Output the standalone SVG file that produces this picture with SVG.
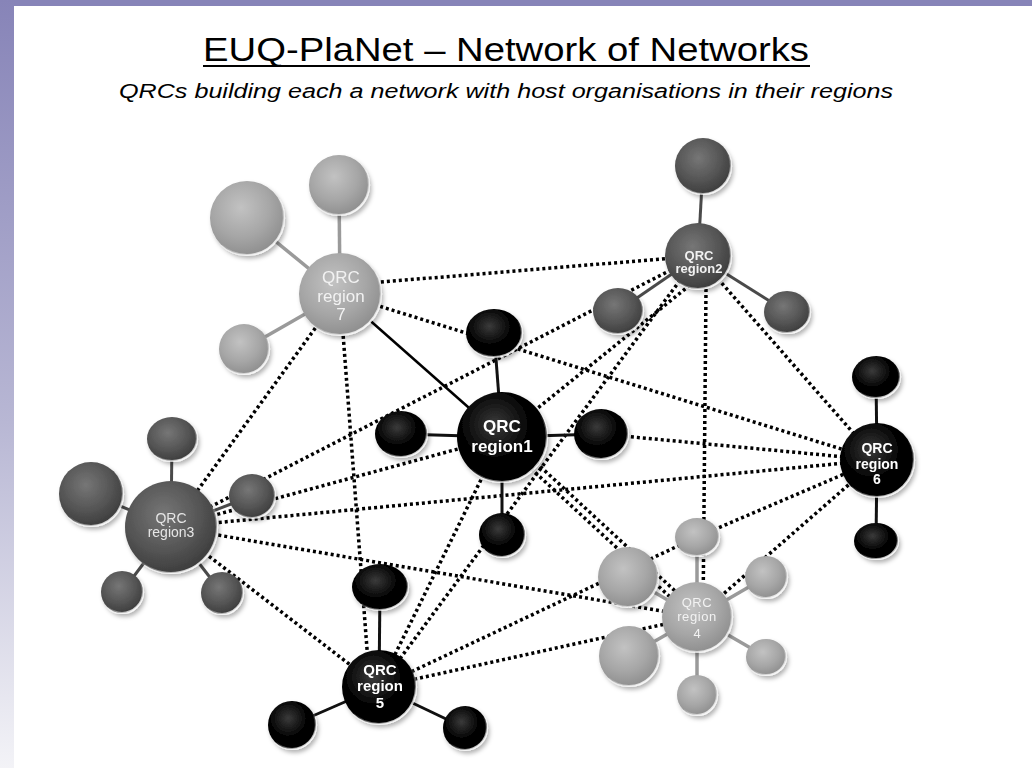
<svg xmlns="http://www.w3.org/2000/svg" width="1032" height="768" viewBox="0 0 1032 768">
<defs>
<linearGradient id="bandL" x1="0" y1="0" x2="0" y2="1">
<stop offset="0" stop-color="#8784b8"/><stop offset="0.55" stop-color="#b8b7d4"/><stop offset="1" stop-color="#f3f3f7"/>
</linearGradient>
<radialGradient id="gK" cx="0.42" cy="0.36" r="0.66">
<stop offset="0" stop-color="#3a3a3a"/><stop offset="0.55" stop-color="#060606"/><stop offset="1" stop-color="#000"/>
</radialGradient>
<radialGradient id="gD" cx="0.42" cy="0.36" r="0.66">
<stop offset="0" stop-color="#767676"/><stop offset="0.6" stop-color="#555"/><stop offset="1" stop-color="#3c3c3c"/>
</radialGradient>
<radialGradient id="gL" cx="0.42" cy="0.36" r="0.66">
<stop offset="0" stop-color="#c2c2c2"/><stop offset="0.6" stop-color="#a6a6a6"/><stop offset="1" stop-color="#8e8e8e"/>
</radialGradient>
<linearGradient id="rim" x1="0.15" y1="0.05" x2="0.85" y2="0.95">
<stop offset="0" stop-color="#fff" stop-opacity="0"/><stop offset="0.55" stop-color="#fff" stop-opacity="0"/><stop offset="1" stop-color="#fff" stop-opacity="0.95"/>
</linearGradient>
<filter id="sh" x="-30%" y="-30%" width="170%" height="170%">
<feDropShadow dx="2" dy="3" stdDeviation="2.2" flood-color="#000" flood-opacity="0.3"/>
</filter>
</defs>
<style>
.con{stroke:#000;stroke-width:3.5;stroke-dasharray:3 3;fill:none}
.sol{stroke:#000;stroke-width:2.5;fill:none}
.spk{stroke:#111;stroke-width:3}
.spd{stroke:#4a4a4a;stroke-width:3}
.spl{stroke:#9a9a9a;stroke-width:3.5}
.k{fill:url(#gK);stroke:url(#rim);stroke-width:2.2}
.d{fill:url(#gD);stroke:url(#rim);stroke-width:2.2}
.l{fill:url(#gL);stroke:url(#rim);stroke-width:2.2}
.n{filter:url(#sh)}
.lab{font-family:"Liberation Sans",Arial,sans-serif;text-anchor:middle}
.wb{fill:#fff;font-weight:bold}
.gw{fill:#f2f2f2}
</style>
<rect x="0" y="0" width="1032" height="768" fill="#fff"/>
<rect x="0" y="0" width="1032" height="6" fill="#8784b8"/>
<rect x="0" y="0" width="14" height="768" fill="url(#bandL)"/>

<g id="title">
<text x="506" y="61" font-family="'Liberation Sans',Arial,sans-serif" font-size="34" fill="#000" text-anchor="middle" textLength="606" lengthAdjust="spacingAndGlyphs">EUQ-PlaNet – Network of Networks</text>
<rect x="203" y="65" width="607" height="2" fill="#000"/>
<text x="506" y="98" font-family="'Liberation Sans',Arial,sans-serif" font-size="20" font-style="italic" fill="#000" text-anchor="middle" textLength="774" lengthAdjust="spacingAndGlyphs">QRCs building each a network with host organisations in their regions</text>
</g>

<g id="connectors">
<line class="con" x1="345" y1="285" x2="698" y2="256"/>
<line class="con" x1="340" y1="294" x2="877" y2="460"/>
<line class="con" x1="340" y1="294" x2="171" y2="527"/>
<line class="con" x1="340" y1="294" x2="368" y2="662"/>
<line class="con" x1="698" y1="256" x2="171" y2="527"/>
<line class="con" x1="690" y1="285" x2="502" y2="437"/>
<line class="con" x1="698" y1="256" x2="379" y2="687"/>
<line class="con" x1="706" y1="289" x2="703" y2="617"/>
<line class="con" x1="698" y1="256" x2="877" y2="460"/>
<line class="con" x1="171" y1="527" x2="502" y2="437"/>
<line class="con" x1="171" y1="527" x2="877" y2="460"/>
<line class="con" x1="171" y1="527" x2="697" y2="617"/>
<line class="con" x1="171" y1="527" x2="379" y2="687"/>
<line class="con" x1="500" y1="440" x2="695" y2="620"/>
<line class="con" x1="505" y1="434" x2="700" y2="614"/>
<line class="con" x1="601" y1="434" x2="877" y2="460"/>
<line class="con" x1="379" y1="687" x2="502" y2="437"/>
<line class="con" x1="379" y1="687" x2="697" y2="537"/>
<line class="con" x1="379" y1="687" x2="697" y2="617"/>
<line class="con" x1="697" y1="537" x2="877" y2="460"/>
<line class="con" x1="697" y1="617" x2="877" y2="460"/>
<line class="sol" x1="340" y1="294" x2="502" y2="437"/>
<line class="spl" x1="340" y1="294" x2="247" y2="218"/>
<line class="spl" x1="340" y1="294" x2="339" y2="185"/>
<line class="spl" x1="340" y1="294" x2="244" y2="349"/>
<line class="spd" x1="698" y1="256" x2="703" y2="166"/>
<line class="spd" x1="698" y1="256" x2="618" y2="311"/>
<line class="spd" x1="698" y1="256" x2="787" y2="312"/>
<line class="spk" x1="502" y1="437" x2="494" y2="333"/>
<line class="spk" x1="502" y1="437" x2="401" y2="434"/>
<line class="spk" x1="502" y1="437" x2="601" y2="434"/>
<line class="spk" x1="502" y1="437" x2="502" y2="535"/>
<line class="spd" x1="171" y1="527" x2="172" y2="439"/>
<line class="spd" x1="171" y1="527" x2="91" y2="494"/>
<line class="spd" x1="171" y1="527" x2="252" y2="496"/>
<line class="spd" x1="171" y1="527" x2="122" y2="592"/>
<line class="spd" x1="171" y1="527" x2="222" y2="593"/>
<line class="spl" x1="697" y1="617" x2="697" y2="537"/>
<line class="spl" x1="697" y1="617" x2="628" y2="577"/>
<line class="spl" x1="697" y1="617" x2="629" y2="656"/>
<line class="spl" x1="697" y1="617" x2="766" y2="577"/>
<line class="spl" x1="697" y1="617" x2="766" y2="657"/>
<line class="spl" x1="697" y1="617" x2="697" y2="695"/>
<line class="spk" x1="379" y1="687" x2="380" y2="587"/>
<line class="spk" x1="379" y1="687" x2="292" y2="725"/>
<line class="spk" x1="379" y1="687" x2="465" y2="728"/>
<line class="spk" x1="877" y1="460" x2="876" y2="377"/>
<line class="spk" x1="877" y1="460" x2="876" y2="541"/>
</g>

<g id="r7-s1" class="n"><circle class="l" cx="247" cy="218" r="37"/></g>
<g id="r7-s2" class="n"><circle class="l" cx="339" cy="185" r="30"/></g>
<g id="r7-s3" class="n"><circle class="l" cx="244" cy="349" r="25"/></g>
<g id="r7" class="n"><circle class="l" cx="340" cy="294" r="41"/>
<text class="lab gw" font-size="17" x="341" y="283">QRC</text>
<text class="lab gw" font-size="17" x="341" y="302">region</text>
<text class="lab gw" font-size="17" x="341" y="320">7</text></g>

<g id="r2-s1" class="n"><circle class="d" cx="703" cy="166" r="28"/></g>
<g id="r2-s2" class="n"><ellipse class="d" cx="618" cy="311" rx="25" ry="23"/></g>
<g id="r2-s3" class="n"><ellipse class="d" cx="787" cy="312" rx="23" ry="21"/></g>
<g id="r2" class="n"><circle class="d" cx="698" cy="256" r="33"/>
<text class="lab gw" font-size="13" font-weight="bold" x="699" y="260">QRC</text>
<text class="lab gw" font-size="13" font-weight="bold" x="699" y="273">region2</text></g>

<g id="r1-s1" class="n"><ellipse class="k" cx="494" cy="333" rx="28" ry="24"/></g>
<g id="r1-s2" class="n"><ellipse class="k" cx="401" cy="434" rx="26" ry="23"/></g>
<g id="r1-s3" class="n"><ellipse class="k" cx="601" cy="434" rx="27" ry="25"/></g>
<g id="r1-s4" class="n"><ellipse class="k" cx="502" cy="535" rx="23" ry="22"/></g>
<g id="r1" class="n"><circle class="k" cx="502" cy="437" r="45"/>
<text class="lab wb" font-size="17" x="502" y="432">QRC</text>
<text class="lab wb" font-size="17" x="502" y="452">region1</text></g>

<g id="r3-s1" class="n"><ellipse class="d" cx="172" cy="439" rx="25" ry="22"/></g>
<g id="r3-s2" class="n"><circle class="d" cx="91" cy="494" r="32"/></g>
<g id="r3-s3" class="n"><ellipse class="d" cx="252" cy="496" rx="23" ry="22"/></g>
<g id="r3-s4" class="n"><circle class="d" cx="122" cy="592" r="21"/></g>
<g id="r3-s5" class="n"><circle class="d" cx="222" cy="593" r="21"/></g>
<g id="r3" class="n"><circle class="d" cx="171" cy="527" r="46"/>
<text class="lab" fill="#e6e6e6" font-size="14" x="171" y="523">QRC</text>
<text class="lab" fill="#e6e6e6" font-size="14" x="171" y="537">region3</text></g>

<g id="r4-s1" class="n"><ellipse class="l" cx="697" cy="537" rx="22" ry="19"/></g>
<g id="r4-s2" class="n"><circle class="l" cx="628" cy="577" r="30"/></g>
<g id="r4-s3" class="n"><circle class="l" cx="629" cy="656" r="30"/></g>
<g id="r4-s4" class="n"><circle class="l" cx="766" cy="577" r="21"/></g>
<g id="r4-s5" class="n"><ellipse class="l" cx="766" cy="657" rx="20" ry="18"/></g>
<g id="r4-s6" class="n"><circle class="l" cx="697" cy="695" r="20"/></g>
<g id="r4" class="n"><circle class="l" cx="697" cy="617" r="35"/>
<text class="lab gw" font-size="13" letter-spacing="0.6" x="697" y="607">QRC</text>
<text class="lab gw" font-size="13" letter-spacing="0.6" x="697" y="621">region</text>
<text class="lab gw" font-size="13" x="697" y="638">4</text></g>

<g id="r5-s1" class="n"><ellipse class="k" cx="380" cy="587" rx="28" ry="23"/></g>
<g id="r5-s2" class="n"><circle class="k" cx="292" cy="725" r="24"/></g>
<g id="r5-s3" class="n"><circle class="k" cx="465" cy="728" r="22"/></g>
<g id="r5" class="n"><circle class="k" cx="379" cy="687" r="37"/>
<text class="lab wb" font-size="15" x="380" y="675">QRC</text>
<text class="lab wb" font-size="15" x="380" y="691">region</text>
<text class="lab wb" font-size="15" x="380" y="708">5</text></g>

<g id="r6-s1" class="n"><ellipse class="k" cx="876" cy="377" rx="24" ry="21"/></g>
<g id="r6-s2" class="n"><ellipse class="k" cx="876" cy="541" rx="22" ry="18"/></g>
<g id="r6" class="n"><circle class="k" cx="877" cy="460" r="37"/>
<text class="lab wb" font-size="14" x="877" y="453">QRC</text>
<text class="lab wb" font-size="14" x="877" y="469">region</text>
<text class="lab wb" font-size="14" x="877" y="484">6</text></g>
</svg>
